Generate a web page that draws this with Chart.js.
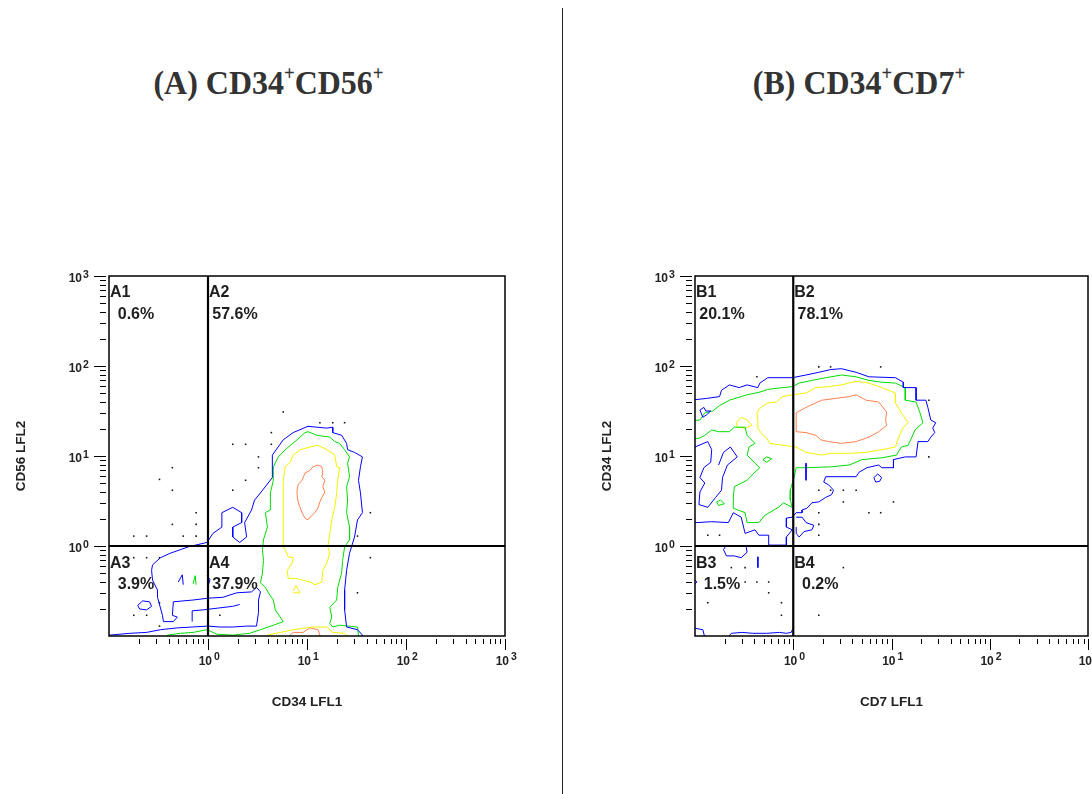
<!DOCTYPE html>
<html><head><meta charset="utf-8">
<script src="https://cdn.jsdelivr.net/npm/chart.js@4/dist/chart.umd.min.js"></script>
<style>
html,body{margin:0;padding:0;background:#fff;}
body{width:1092px;height:794px;position:relative;overflow:hidden;}
canvas{position:absolute;left:0;top:0;}
.title{position:absolute;top:63px;font-family:'Liberation Serif','Times New Roman',serif;font-weight:bold;font-size:34px;color:#333;text-align:center;white-space:nowrap;line-height:40px;transform:scaleX(0.94);transform-origin:50% 50%;}
.title span{font-size:20px;position:relative;top:-14px;}
#divider{position:absolute;left:562px;top:8px;width:1px;height:786px;background:#222;}
</style></head><body>
<div class="title" style="left:0;width:537px">(A) CD34<span>+</span>CD56<span>+</span></div>
<div class="title" style="left:589px;width:540px">(B) CD34<span>+</span>CD7<span>+</span></div>
<div id="divider"></div>
<canvas id="cA" width="1092" height="794"></canvas>
<canvas id="cB" width="1092" height="794"></canvas>
<script>
// ---- axis / label data ----
const axisMin = 0.1, axisMax = 1000;
const tickValues = [1, 10, 100, 1000];
const tickExps = ['0', '1', '2', '3'];
const quadA = [1, 1], quadB = [1, 1];
const namesA = ['A1', 'A2', 'A3', 'A4'];
const pctsA = ['0.6%', '57.6%', '3.9%', '37.9%'];
const namesB = ['B1', 'B2', 'B3', 'B4'];
const pctsB = ['20.1%', '78.1%', '1.5%', '0.2%'];
const titleXA = 'CD34 LFL1', titleYA = 'CD56 LFL2';
const titleXB = 'CD7 LFL1', titleYB = 'CD34 LFL2';

// ---- contour data, in log10 units (decades) [log10 x, log10 y] ----
const A_blue_main = [[-1.05,-0.99],[-0.99,-0.99],[-0.79,-0.97],[-0.62,-0.96],[-0.48,-0.93],[-0.31,-0.91],[-0.16,-0.90],[0,-0.89],[0.12,-0.90],[0.25,-0.90],[0.39,-0.89],[0.49,-0.89],[0.51,-0.74],[0.51,-0.60],[0.53,-0.51],[0.49,-0.46],[0.44,-0.51],[0.29,-0.52],[0.15,-0.57],[0,-0.58],[-0.15,-0.60],[-0.35,-0.62],[-0.36,-0.77],[-0.31,-0.79],[-0.35,-0.84],[-0.45,-0.84],[-0.46,-0.77],[-0.51,-0.57],[-0.51,-0.49],[-0.56,-0.38],[-0.57,-0.27],[-0.56,-0.21],[-0.48,-0.13],[-0.38,-0.08],[-0.20,-0.01],[-0.01,0.04],[0.05,0.14],[0.14,0.21],[0.14,0.37],[0.25,0.43],[0.34,0.37],[0.34,0.26],[0.25,0.21],[0.25,0.10],[0.32,0.04],[0.39,0.10],[0.37,0.26],[0.44,0.40],[0.47,0.51],[0.53,0.59],[0.65,0.76],[0.65,1.01],[0.76,1.18],[0.86,1.26],[1.01,1.33],[1.10,1.32],[1.20,1.31],[1.26,1.32],[1.26,1.26],[1.35,1.23],[1.40,1.14],[1.41,1.07],[1.48,1.04],[1.56,0.99],[1.54,0.88],[1.52,0.73],[1.54,0.59],[1.56,0.37],[1.51,0.29],[1.48,0.10],[1.43,-0.08],[1.40,-0.27],[1.38,-0.49],[1.38,-0.71],[1.40,-0.90],[1.51,-0.93],[1.56,-0.99],[1.56,-1.05]];
const A_blue_island = [[-0.71,-0.66],[-0.66,-0.61],[-0.59,-0.62],[-0.57,-0.67],[-0.62,-0.71],[-0.69,-0.70]];
const A_blue_mark1 = [[-0.30,-0.40],[-0.26,-0.32],[-0.25,-0.43]];
const A_blue_mark2 = [[-0.01,-0.33],[0.02,-0.37],[0.0,-0.45]];
const A_blue_inner = [[-0.16,-0.84],[-0.16,-0.72],[-0.05,-0.71],[0.10,-0.69],[0.25,-0.67],[0.32,-0.65]];
const A_green_main = [[-0.41,-1.1],[-0.41,-0.99],[-0.28,-0.97],[-0.15,-0.96],[-0.01,-0.93],[0.09,-0.98],[0.25,-0.99],[0.42,-0.97],[0.53,-0.93],[0.66,-0.88],[0.76,-0.84],[0.68,-0.71],[0.66,-0.60],[0.61,-0.52],[0.58,-0.46],[0.53,-0.41],[0.55,-0.30],[0.56,-0.16],[0.55,-0.04],[0.56,0.07],[0.60,0.21],[0.58,0.37],[0.63,0.40],[0.63,0.59],[0.66,0.73],[0.66,0.88],[0.71,0.99],[0.80,1.09],[0.90,1.18],[0.98,1.26],[1.01,1.27],[1.10,1.23],[1.23,1.21],[1.28,1.16],[1.33,1.14],[1.38,1.07],[1.43,0.99],[1.41,0.92],[1.43,0.77],[1.40,0.66],[1.41,0.51],[1.40,0.37],[1.43,0.21],[1.43,0.07],[1.38,-0.01],[1.36,-0.16],[1.35,-0.30],[1.31,-0.46],[1.30,-0.60],[1.23,-0.68],[1.25,-0.79],[1.23,-0.86],[1.26,-0.90],[1.33,-0.88],[1.51,-0.90],[1.52,-0.99],[1.52,-1.1]];
const A_green_mark = [[-0.15,-0.42],[-0.13,-0.33],[-0.12,-0.43]];
const A_yellow_main = [[1.11,1.12],[1.20,1.07],[1.28,1.01],[1.30,0.88],[1.33,0.87],[1.31,0.73],[1.30,0.59],[1.28,0.43],[1.25,0.29],[1.23,0.14],[1.21,-0.01],[1.23,-0.08],[1.20,-0.19],[1.16,-0.27],[1.15,-0.40],[1.08,-0.43],[1.03,-0.40],[0.96,-0.38],[0.88,-0.36],[0.81,-0.36],[0.80,-0.27],[0.85,-0.19],[0.86,-0.13],[0.81,-0.12],[0.78,-0.04],[0.76,-0.01],[0.76,0.14],[0.76,0.51],[0.76,0.73],[0.78,0.88],[0.83,0.93],[0.86,1.01],[0.93,1.07],[1.03,1.10]];
const A_yellow_band = [[0.60,-1.1],[0.60,-0.99],[0.73,-0.96],[0.86,-0.93],[1.06,-0.90],[1.20,-0.90],[1.26,-0.96],[1.38,-0.97],[1.40,-0.99],[1.40,-1.1]];
const A_yellow_mark = [[0.86,-0.50],[0.89,-0.44],[0.93,-0.52],[0.86,-0.52]];
const A_orange_main = [[1.11,0.90],[1.15,0.88],[1.16,0.82],[1.15,0.77],[1.18,0.73],[1.16,0.66],[1.18,0.60],[1.15,0.54],[1.13,0.49],[1.11,0.42],[1.08,0.37],[1.03,0.32],[1.01,0.29],[0.98,0.31],[0.95,0.37],[0.93,0.43],[0.91,0.49],[0.90,0.57],[0.90,0.62],[0.91,0.68],[0.95,0.73],[0.98,0.81],[1.03,0.84],[1.06,0.88]];
const A_orange_band = [[0.83,-1.1],[0.83,-0.99],[0.86,-0.96],[0.96,-0.96],[1.03,-0.91],[1.11,-0.93],[1.13,-0.99],[1.13,-1.1]];
const A_dots = [[0.76,1.49],[1.13,1.37],[1.26,1.37],[1.38,1.37],[0.64,1.26],[0.25,1.13],[0.38,1.13],[0.64,1.13],[0.51,0.99],[0.51,0.87],[0.38,0.73],[0.25,0.62],[-0.36,0.87],[-0.49,0.74],[-0.36,0.62],[1.64,0.37],[1.51,0.11],[1.64,-0.13],[1.51,-0.52],[-0.12,0.37],[-0.12,0.24],[-0.36,0.24],[-0.75,0.11],[-0.62,0.11],[-0.25,0.11],[-0.12,0.11],[-0.75,-0.13],[-0.62,-0.13],[-0.49,-0.13],[-0.49,-0.63],[-0.75,-0.77],[-0.62,-0.77],[-0.49,-0.89],[0.12,-0.77]];

const B_blue_main = [[-1.05,1.62],[-0.88,1.64],[-0.75,1.66],[-0.73,1.73],[-0.65,1.79],[-0.55,1.76],[-0.47,1.79],[-0.36,1.76],[-0.34,1.81],[-0.26,1.87],[-0.01,1.87],[0.13,1.90],[0.26,1.93],[0.38,1.96],[0.49,1.97],[0.64,1.93],[0.77,1.88],[1.04,1.87],[1.12,1.82],[1.12,1.76],[1.25,1.76],[1.25,1.62],[1.35,1.62],[1.37,1.54],[1.40,1.40],[1.45,1.37],[1.42,1.31],[1.44,1.26],[1.40,1.21],[1.37,1.16],[1.27,1.16],[1.25,0.99],[1.14,0.99],[1.02,0.96],[1.02,0.87],[0.90,0.87],[0.87,0.90],[0.75,0.87],[0.67,0.82],[0.64,0.77],[0.33,0.77],[0.31,0.71],[0.36,0.68],[0.41,0.62],[0.39,0.57],[0.33,0.54],[0.26,0.49],[0.19,0.48],[0.14,0.42],[0.09,0.40],[0.09,0.37],[0.03,0.37],[-0.01,0.32],[-0.07,0.31],[-0.07,0.21],[-0.01,0.18],[-0.07,0.10],[-0.07,0.01],[-0.25,0.01],[-0.25,0.12],[-0.35,0.12],[-0.39,0.18],[-0.49,0.14],[-0.53,0.32],[-0.61,0.37],[-0.66,0.26],[-0.83,0.27],[-0.98,0.26],[-1.05,0.26]];
const B_blue_fingers = [[-1.00,1.10],[-0.87,1.16],[-0.83,1.07],[-0.84,0.93],[-0.91,0.87],[-0.95,0.76],[-0.90,0.70],[-0.95,0.60],[-0.96,0.46],[-0.87,0.43],[-0.79,0.54],[-0.73,0.62],[-0.72,0.76],[-0.67,0.90],[-0.57,0.99],[-0.64,1.10],[-0.71,1.04],[-0.76,0.90]];
const B_blue_loop1 = [[0.03,0.32],[0.09,0.32],[0.13,0.26],[0.21,0.23],[0.19,0.18],[0.11,0.16],[0.06,0.10],[0.03,0.14],[0.03,0.21]];
const B_blue_star = [[0.82,0.76],[0.86,0.80],[0.90,0.76],[0.88,0.72],[0.84,0.71]];
const B_blue_tick = [[0.13,0.92],[0.13,0.73]];
const B_blue_loop2 = [[-0.95,1.51],[-0.91,1.54],[-0.89,1.50],[-0.84,1.50],[-0.88,1.46],[-0.92,1.43]];
const B_blue_island = [[-0.68,0.01],[-0.71,-0.04],[-0.68,-0.11],[-0.60,-0.11],[-0.53,-0.13],[-0.47,-0.07],[-0.48,0.00]];
const B_blue_dash = [[-0.36,-0.12],[-0.36,-0.24]];
const B_blue_edge = [[-1.0,-0.38],[-0.98,-0.40],[-1.0,-0.42]];
const B_blue_bottom1 = [[-1.02,-0.91],[-0.92,-0.93],[-0.90,-1.02]];
const B_blue_bottom2 = [[-0.67,-1.02],[-0.63,-0.97],[-0.52,-0.96],[-0.41,-0.97],[-0.27,-0.97],[-0.14,-0.96],[-0.07,-0.97],[-0.02,-0.96],[-0.01,-0.93],[0.01,-0.91]];
const B_green_main = [[-1.05,1.39],[-0.95,1.40],[-0.90,1.48],[-0.82,1.50],[-0.75,1.56],[-0.65,1.62],[-0.47,1.68],[-0.34,1.71],[-0.26,1.74],[-0.11,1.76],[-0.01,1.77],[0.06,1.81],[0.19,1.84],[0.33,1.87],[0.49,1.90],[0.64,1.88],[0.77,1.84],[0.90,1.82],[1.04,1.81],[1.14,1.76],[1.14,1.62],[1.25,1.60],[1.29,1.48],[1.32,1.37],[1.24,1.29],[1.17,1.12],[1.10,1.10],[1.05,1.01],[0.90,0.98],[0.70,0.96],[0.57,0.90],[0.39,0.88],[0.13,0.87],[0.03,0.87],[0.01,0.77],[-0.03,0.62],[-0.03,0.51],[-0.01,0.43],[-0.10,0.48],[-0.15,0.43],[-0.29,0.34],[-0.35,0.26],[-0.47,0.26],[-0.49,0.37],[-0.61,0.42],[-0.61,0.53],[-0.60,0.66],[-0.47,0.73],[-0.40,0.81],[-0.34,0.87],[-0.39,0.92],[-0.47,1.01],[-0.45,1.10],[-0.39,1.14],[-0.47,1.23],[-0.49,1.32],[-0.60,1.32],[-0.65,1.27],[-0.76,1.27],[-0.83,1.29],[-0.90,1.23],[-0.95,1.20],[-1.05,1.18]];
const B_green_loop1 = [[-0.31,0.96],[-0.27,0.99],[-0.22,0.97],[-0.27,0.93]];
const B_green_loop2 = [[-0.78,0.49],[-0.74,0.51],[-0.70,0.47],[-0.76,0.45]];
const B_yellow_main = [[-0.37,1.48],[-0.34,1.53],[-0.26,1.59],[-0.17,1.60],[-0.11,1.66],[-0.01,1.68],[0.13,1.70],[0.23,1.76],[0.36,1.77],[0.49,1.79],[0.64,1.83],[0.77,1.81],[0.90,1.76],[1.04,1.70],[1.04,1.59],[1.10,1.48],[1.17,1.37],[1.12,1.32],[1.07,1.20],[1.04,1.10],[0.90,1.07],[0.74,1.04],[0.57,1.03],[0.38,1.03],[0.29,1.01],[0.13,1.04],[0.03,1.10],[-0.11,1.12],[-0.24,1.14],[-0.27,1.20],[-0.31,1.23],[-0.36,1.31],[-0.36,1.40]];
const B_yellow_island = [[-0.58,1.37],[-0.53,1.43],[-0.47,1.40],[-0.42,1.34],[-0.49,1.31],[-0.57,1.32]];
const B_orange_main = [[0.03,1.48],[0.13,1.54],[0.29,1.62],[0.43,1.64],[0.57,1.66],[0.64,1.68],[0.74,1.62],[0.87,1.60],[0.95,1.49],[0.94,1.40],[0.95,1.34],[0.87,1.27],[0.77,1.21],[0.64,1.16],[0.49,1.14],[0.36,1.16],[0.28,1.18],[0.23,1.23],[0.13,1.26],[0.03,1.27],[0.03,1.37]];
const B_dots = [[0.26,1.99],[0.38,1.99],[0.89,1.99],[-0.37,1.88],[1.38,1.62],[1.38,0.99],[0.26,0.62],[0.38,0.62],[0.51,0.62],[0.64,0.62],[0.51,0.49],[1.02,0.49],[0.77,0.37],[0.89,0.37],[0.26,0.37],[0.26,0.24],[0.26,0.12],[-0.75,0.12],[-0.87,0.12],[-0.63,-0.24],[-0.49,-0.24],[0.51,-0.24],[-0.49,-0.40],[-0.37,-0.40],[-0.25,-0.40],[-0.25,-0.52],[-0.87,-0.63],[-0.12,-0.63],[-0.12,-0.77],[0.26,-0.77]];

// ---- colours ----
const BLUE = '#0000ff', GREEN = '#00dd00', YELLOW = '#f2f200', ORANGE = '#ff8050';

function pts(a, close) {
  const r = a.map(p => ({ x: Math.pow(10, p[0]), y: Math.pow(10, p[1]) }));
  if (close) r.push(r[0]);
  return r;
}
function contour(a, color, close) {
  return { data: pts(a, close), showLine: true, borderColor: color, borderWidth: 1,
    pointRadius: 0, pointHoverRadius: 0, fill: false, tension: 0, clip: 0 };
}
function dots(a) {
  return { data: pts(a, false), showLine: false, pointRadius: 1.1, pointStyle: 'rect',
    backgroundColor: '#111', borderWidth: 0, clip: 0 };
}

const SANS = '"Liberation Sans", Arial, Helvetica, sans-serif';
function flowPlugin(o) {
  return {
    id: 'flow',
    afterDatasetsDraw(chart) {
      const ctx = chart.ctx, a = chart.chartArea, xs = chart.scales.x, ys = chart.scales.y;
      ctx.save();
      // quadrant lines
      const qx = xs.getPixelForValue(o.quad[0]), qy = ys.getPixelForValue(o.quad[1]);
      ctx.strokeStyle = '#000';
      ctx.lineWidth = 2.2;
      ctx.beginPath(); ctx.moveTo(qx, a.top); ctx.lineTo(qx, a.bottom); ctx.stroke();
      ctx.beginPath(); ctx.moveTo(a.left, qy); ctx.lineTo(a.right, qy); ctx.stroke();
      // frame
      ctx.lineWidth = 1.5;
      ctx.strokeRect(a.left, a.top, a.right - a.left, a.bottom - a.top);
      // ticks
      ctx.lineWidth = 1;
      for (let n = -1; n <= 3; n++) {
        for (let m = 1; m <= 9; m++) {
          if (n === 3 && m > 1) break;
          if (n === -1 && m === 1) continue;
          const v = m * Math.pow(10, n), major = m === 1;
          const px = Math.round(xs.getPixelForValue(v)) + 0.5;
          ctx.beginPath(); ctx.moveTo(px, a.bottom + 3); ctx.lineTo(px, a.bottom + (major ? 14 : 8)); ctx.stroke();
          const py = Math.round(ys.getPixelForValue(v)) + 0.5;
          ctx.beginPath(); ctx.moveTo(a.left - 3, py); ctx.lineTo(a.left - (major ? 15 : 9), py); ctx.stroke();
        }
      }
      // tick labels
      ctx.fillStyle = '#222';
      ctx.textBaseline = 'alphabetic';
      tickValues.forEach((v, i) => {
        const px = xs.getPixelForValue(v), py = ys.getPixelForValue(v);
        ctx.font = 'bold 12px ' + SANS; ctx.textAlign = 'right';
        ctx.fillText('10', px + 4, a.bottom + 29);
        ctx.fillText('10', a.left - 27, py + 6);
        ctx.font = 'bold 10.5px ' + SANS; ctx.textAlign = 'left';
        ctx.fillText(tickExps[i], px + 6, a.bottom + 24);
        ctx.fillText(tickExps[i], a.left - 26, py + 2);
      });
      // axis titles
      ctx.font = 'bold 13.5px ' + SANS;
      ctx.textAlign = 'center';
      ctx.fillText(o.titleX, (a.left + a.right) / 2, a.bottom + 70);
      ctx.save();
      ctx.translate(a.left - 84.5, (a.top + a.bottom) / 2);
      ctx.rotate(-Math.PI / 2);
      ctx.fillText(o.titleY, 0, 0);
      ctx.restore();
      // quadrant labels
      ctx.font = 'bold 16px ' + SANS;
      ctx.fillStyle = '#1e1e1e';
      const cells = [[a.left, a.top], [qx, a.top], [a.left, qy], [qx, qy]];
      cells.forEach((c, i) => {
        const dy = i < 2 ? 21 : 22;
        ctx.textAlign = 'left';
        ctx.fillText(o.names[i], c[0] + 1, c[1] + dy);
        ctx.textAlign = 'center';
        ctx.fillText(o.pcts[i], c[0] + 27, c[1] + 43);
      });
      ctx.restore();
    }
  };
}

function makeChart(id, datasets, pad, o) {
  return new Chart(document.getElementById(id), {
    type: 'scatter',
    data: { datasets },
    options: {
      responsive: false, animation: false, events: [],
      layout: { padding: pad },
      scales: {
        x: { type: 'logarithmic', min: axisMin, max: axisMax, display: false },
        y: { type: 'logarithmic', min: axisMin, max: axisMax, display: false }
      },
      plugins: { legend: { display: false }, tooltip: { enabled: false } }
    },
    plugins: [flowPlugin(o)]
  });
}

makeChart('cA', [
  contour(A_blue_main, BLUE, false),
  contour(A_blue_island, BLUE, true),
  contour(A_blue_mark1, BLUE, false),
  contour(A_blue_mark2, BLUE, false),
  contour(A_blue_inner, BLUE, false),
  contour(A_green_main, GREEN, false),
  contour(A_green_mark, GREEN, false),
  contour(A_yellow_main, YELLOW, true),
  contour(A_yellow_band, YELLOW, false),
  contour(A_yellow_mark, YELLOW, false),
  contour(A_orange_main, ORANGE, true),
  contour(A_orange_band, ORANGE, false),
  dots(A_dots)
], { left: 109, top: 276, right: 587, bottom: 158 },
{ quad: quadA, names: namesA, pcts: pctsA, titleX: titleXA, titleY: titleYA });

makeChart('cB', [
  contour(B_blue_main, BLUE, false),
  contour(B_blue_fingers, BLUE, false),
  contour(B_blue_loop1, BLUE, false),
  contour(B_blue_star, BLUE, true),
  contour(B_blue_tick, BLUE, false),
  contour(B_blue_loop2, BLUE, true),
  contour(B_blue_island, BLUE, false),
  contour(B_blue_dash, BLUE, false),
  contour(B_blue_edge, BLUE, false),
  contour(B_blue_bottom1, BLUE, false),
  contour(B_blue_bottom2, BLUE, false),
  contour(B_green_main, GREEN, false),
  contour(B_green_loop1, GREEN, true),
  contour(B_green_loop2, GREEN, true),
  contour(B_yellow_main, YELLOW, true),
  contour(B_yellow_island, YELLOW, true),
  contour(B_orange_main, ORANGE, true),
  dots(B_dots)
], { left: 695, top: 276, right: 1, bottom: 158 },
{ quad: quadB, names: namesB, pcts: pctsB, titleX: titleXB, titleY: titleYB });
</script>
</body></html>
